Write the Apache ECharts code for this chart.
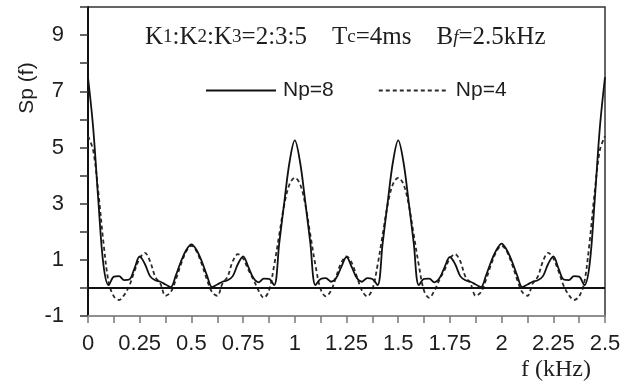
<!DOCTYPE html>
<html>
<head>
<meta charset="utf-8">
<script src="https://cdn.jsdelivr.net/npm/echarts@6/dist/echarts.min.js"></script>
<style>
  html, body { margin: 0; padding: 0; background: #fff; }
  #chart { width: 630px; height: 384px; }
</style>
</head>
<body>
<div id="chart"></div>
<script>
// frequency samples, kHz
const freq = [
  0, 0.025, 0.05, 0.075, 0.1, 0.125, 0.15, 0.175, 0.2, 0.225,
  0.25, 0.275, 0.3, 0.325, 0.35, 0.375, 0.4, 0.425, 0.45, 0.475,
  0.5, 0.525, 0.55, 0.575, 0.6, 0.625, 0.65, 0.675, 0.7, 0.725,
  0.75, 0.775, 0.8, 0.825, 0.85, 0.875, 0.9, 0.925, 0.95, 0.975,
  1, 1.025, 1.05, 1.075, 1.1, 1.125, 1.15, 1.175, 1.2, 1.225,
  1.25, 1.275, 1.3, 1.325, 1.35, 1.375, 1.4, 1.425, 1.45, 1.475,
  1.5, 1.525, 1.55, 1.575, 1.6, 1.625, 1.65, 1.675, 1.7, 1.725,
  1.75, 1.775, 1.8, 1.825, 1.85, 1.875, 1.9, 1.925, 1.95, 1.975,
  2, 2.025, 2.05, 2.075, 2.1, 2.125, 2.15, 2.175, 2.2, 2.225,
  2.25, 2.275, 2.3, 2.325, 2.35, 2.375, 2.4, 2.425, 2.45, 2.475,
  2.5
];

// Sp(f), Np=8 (solid)
const np8 = [
  7.5, 5.7, 3.1, 0.8, 0.1, 0.4, 0.42, 0.28, 0.3, 0.7,
  1.12, 0.85, 0.42, 0.27, 0.22, 0.12, 0.03, 0.45, 0.95, 1.35,
  1.55, 1.35, 0.95, 0.45, 0.03, 0.12, 0.22, 0.27, 0.42, 0.85,
  1.12, 0.75, 0.35, 0.2, 0.33, 0.32, 0.1, 1.6, 3.1, 4.5,
  5.25, 4.5, 3.1, 1.6, 0.1, 0.32, 0.35, 0.22, 0.35, 0.75,
  1.1, 0.75, 0.35, 0.22, 0.35, 0.32, 0.1, 1.6, 3.1, 4.5,
  5.25, 4.5, 3.1, 1.6, 0.1, 0.32, 0.33, 0.2, 0.35, 0.75,
  1.1, 0.85, 0.42, 0.27, 0.22, 0.12, 0.03, 0.45, 0.95, 1.35,
  1.58, 1.35, 0.95, 0.45, 0.03, 0.12, 0.22, 0.27, 0.42, 0.85,
  1.12, 0.7, 0.3, 0.28, 0.42, 0.4, 0.1, 0.8, 3.1, 5.7,
  7.5
];

// Sp(f), Np=4 (dashed)
const np4 = [
  5.4, 4.9, 3.4, 1.6, 0.2, -0.3, -0.43, -0.25, 0.08, 0.6,
  1.05, 1.25, 0.95, 0.4, 0.15, -0.28, -0.15, 0.3, 0.85, 1.3,
  1.5, 1.3, 0.85, 0.3, -0.15, -0.28, 0.15, 0.4, 0.95, 1.2,
  1.05, 0.65, 0.3, -0.1, -0.35, -0.1, 0.8, 1.9, 3.0, 3.7,
  3.92, 3.7, 3.0, 1.9, 0.8, -0.05, -0.3, -0.1, 0.4, 0.9,
  1.12, 0.9, 0.4, -0.1, -0.3, -0.05, 0.8, 1.9, 3.0, 3.7,
  3.92, 3.7, 3.0, 1.9, 0.8, -0.1, -0.35, -0.1, 0.3, 0.65,
  1.05, 1.2, 0.95, 0.4, 0.15, -0.28, -0.15, 0.3, 0.85, 1.3,
  1.5, 1.3, 0.85, 0.3, -0.15, -0.28, 0.15, 0.4, 0.95, 1.25,
  1.05, 0.6, 0.08, -0.25, -0.43, -0.3, 0.2, 1.6, 3.4, 4.9,
  5.4
];

const yLabels = [-1, 1, 3, 5, 7, 9];

const SANS = "Liberation Sans, Arial, sans-serif";
const SERIF = "Liberation Serif, Times New Roman, serif";
const INK = "#1e1e1e";

const chart = echarts.init(document.getElementById("chart"), null, { renderer: "canvas" });

chart.setOption({
  animation: false,
  backgroundColor: "#fff",
  grid: {
    left: 88, top: 7, width: 517, height: 309,
    show: true, borderColor: "#333", borderWidth: 1.5,
    containLabel: false, outerBoundsMode: "none",
  },
  title: {
    left: 145, top: 25, padding: 0,
    text: "K{s|1}:K{s|2}:K{s|3}=2:3:5    T{s|c}=4ms    B{i|f}=2.5kHz",
    textStyle: {
      fontFamily: SERIF, fontSize: 25, fontWeight: "normal", color: INK,
      rich: {
        s: { fontFamily: SERIF, fontSize: 19, color: INK },
        i: { fontFamily: SERIF, fontSize: 19, fontStyle: "italic", color: INK },
      },
    },
  },
  legend: {
    left: 205, top: 80, padding: 0,
    itemWidth: 70, itemHeight: 10, itemGap: 44,
    itemStyle: { opacity: 0 },
    textStyle: { fontFamily: SANS, fontSize: 21, color: INK, padding: [0, 0, 0, 2] },
    data: ["Np=8", "Np=4"],
  },
  graphic: [
    {
      type: "text", x: 27, y: 88, rotation: Math.PI / 2,
      style: {
        text: "Sp (f)", fontFamily: SANS, fontSize: 21, fill: INK,
        align: "center", verticalAlign: "middle",
      },
    },
    {
      type: "text", x: 556, y: 370,
      style: {
        text: "f (kHz)", fontFamily: SERIF, fontSize: 24, fill: INK,
        align: "center", verticalAlign: "middle",
      },
    },
  ],
  xAxis: {
    type: "value", min: 0, max: 2.5, interval: 0.125,
    axisLine: { onZero: false, lineStyle: { color: "#8f8f8f", width: 2 } },
    axisTick: { length: 7, lineStyle: { color: "#777", width: 1.5 } },
    axisLabel: {
      margin: 17, fontFamily: SANS, fontSize: 22, color: INK,
      formatter: (v) => (Math.round(v * 1000) % 250 === 0 ? String(v) : ""),
    },
    splitLine: { show: false },
  },
  yAxis: {
    type: "value", min: -1, max: 10, interval: 1,
    axisLine: { show: true, lineStyle: { color: "#111", width: 2 } },
    axisTick: { show: true, length: 8, lineStyle: { color: "#333", width: 1.5 } },
    axisLabel: {
      margin: 24, fontFamily: SANS, fontSize: 22, color: INK,
      formatter: (v) => (yLabels.includes(v) ? String(v) : ""),
    },
    splitLine: { show: false },
  },
  series: [
    {
      name: "Np=8", type: "line", smooth: 0.35, symbol: "none",
      lineStyle: { color: "#111", width: 1.8 },
      itemStyle: { color: "#111" },
      data: freq.map((f, i) => [f, np8[i]]),
      markLine: {
        silent: true, symbol: "none", label: { show: false },
        lineStyle: { color: "#111", width: 2, type: "solid" },
        data: [{ yAxis: 0 }],
      },
      z: 3,
    },
    {
      name: "Np=4", type: "line", smooth: 0.35, symbol: "none",
      lineStyle: { color: "#2a2a2a", width: 1.8, type: [4, 3] },
      itemStyle: { color: "#2a2a2a" },
      data: freq.map((f, i) => [f, np4[i]]),
      z: 2,
    },
  ],
});
</script>
</body>
</html>
